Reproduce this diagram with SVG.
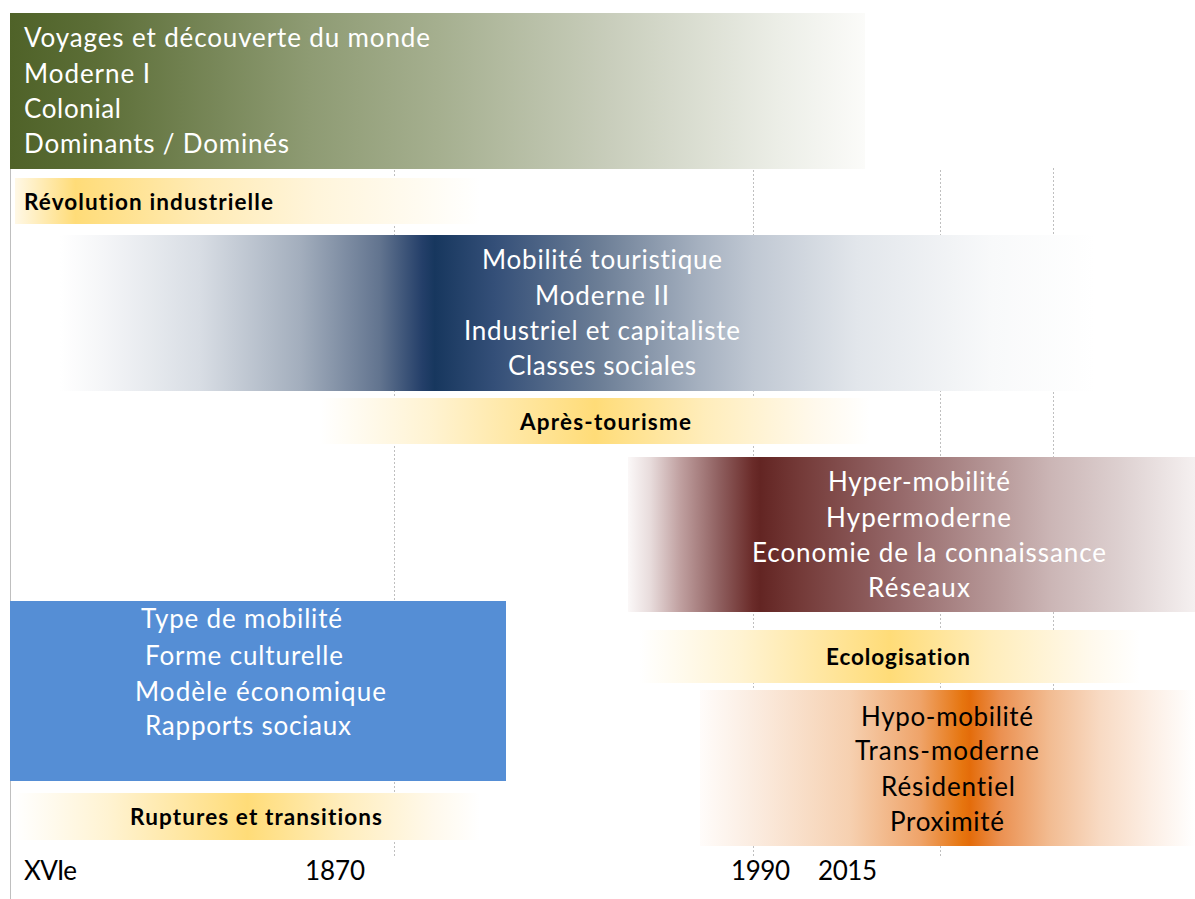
<svg xmlns="http://www.w3.org/2000/svg" width="1195" height="899" viewBox="0 0 1195 899">
<defs>
<style>
text{font-family:Lato,"Liberation Sans","DejaVu Sans",sans-serif;font-size:26px;font-variant-ligatures:none;font-feature-settings:"liga" 0}
.w{fill:#FFFFFF}
.k{fill:#000000}
.b{font-weight:bold;font-size:22.5px;fill:#000000}
.grid{stroke:#BFBFBF;stroke-width:1;stroke-dasharray:2 2;fill:none}
</style>
<linearGradient id="gGreen" x1="0" y1="0" x2="1" y2="0">
<stop offset="0" stop-color="#4F6228"/>
<stop offset="0.1" stop-color="#5C6E37"/>
<stop offset="0.35" stop-color="#8E9B73"/>
<stop offset="0.5" stop-color="#A5AF8F"/>
<stop offset="0.7" stop-color="#C8CDBB"/>
<stop offset="0.9" stop-color="#ECEEE7"/>
<stop offset="1" stop-color="#FBFBF9"/>
</linearGradient>
<linearGradient id="gNavy" x1="0" y1="0" x2="1" y2="0">
<stop offset="0" stop-color="#FFFFFF"/>
<stop offset="0.04" stop-color="#F5F6F8"/>
<stop offset="0.135" stop-color="#D8DDE4"/>
<stop offset="0.232" stop-color="#A3AEBD"/>
<stop offset="0.309" stop-color="#62748F"/>
<stop offset="0.35" stop-color="#243F69"/>
<stop offset="0.362" stop-color="#17375E"/>
<stop offset="0.42" stop-color="#344F78"/>
<stop offset="0.522" stop-color="#6C7E96"/>
<stop offset="0.618" stop-color="#A6B1C0"/>
<stop offset="0.67" stop-color="#C0C8D3"/>
<stop offset="0.77" stop-color="#E2E6EB"/>
<stop offset="0.9" stop-color="#F8F9FA"/>
<stop offset="1" stop-color="#FFFFFF"/>
</linearGradient>
<linearGradient id="gMaroon" x1="0" y1="0" x2="1" y2="0">
<stop offset="0" stop-color="#FBF8F8"/>
<stop offset="0.039" stop-color="#E8DCDC"/>
<stop offset="0.092" stop-color="#C0A0A0"/>
<stop offset="0.162" stop-color="#8E5E5E"/>
<stop offset="0.22" stop-color="#6A2B29"/>
<stop offset="0.233" stop-color="#632523"/>
<stop offset="0.303" stop-color="#743A38"/>
<stop offset="0.48" stop-color="#96696A"/>
<stop offset="0.656" stop-color="#B89A9A"/>
<stop offset="0.744" stop-color="#CBB5B5"/>
<stop offset="0.868" stop-color="#DDD0D0"/>
<stop offset="1" stop-color="#F5F0F0"/>
</linearGradient>
<linearGradient id="gOrange" x1="0" y1="0" x2="1" y2="0">
<stop offset="0" stop-color="#FFFCFA"/>
<stop offset="0.101" stop-color="#FBEDE2"/>
<stop offset="0.303" stop-color="#F6D0B0"/>
<stop offset="0.444" stop-color="#EFA46A"/>
<stop offset="0.53" stop-color="#E6750F"/>
<stop offset="0.545" stop-color="#E46C0A"/>
<stop offset="0.606" stop-color="#EB9050"/>
<stop offset="0.707" stop-color="#F2BC92"/>
<stop offset="0.808" stop-color="#F8DAC3"/>
<stop offset="0.909" stop-color="#FCEEE4"/>
<stop offset="1" stop-color="#FFFFFF"/>
</linearGradient>
<linearGradient id="gGoldL" x1="0" y1="0" x2="1" y2="0">
<stop offset="0" stop-color="#FFF8E6"/>
<stop offset="0.13" stop-color="#FFDC78"/>
<stop offset="0.4" stop-color="#FFEBB5"/>
<stop offset="0.65" stop-color="#FFF5DB"/>
<stop offset="0.9" stop-color="#FFFCF4"/>
<stop offset="1" stop-color="#FFFFFF"/>
</linearGradient>
<linearGradient id="gGoldC" x1="0" y1="0" x2="1" y2="0">
<stop offset="0" stop-color="#FFFFFF"/>
<stop offset="0.2" stop-color="#FFF3D2"/>
<stop offset="0.5" stop-color="#FFDC78"/>
<stop offset="0.7" stop-color="#FFEDBB"/>
<stop offset="0.9" stop-color="#FFF9EC"/>
<stop offset="1" stop-color="#FFFFFF"/>
</linearGradient>
</defs>

<g id="axis-lines">
<line x1="10.5" y1="13" x2="10.5" y2="899" stroke="#BFBFBF" stroke-width="1"/>
<line class="grid" x1="394.5" y1="170" x2="394.5" y2="858"/>
<line class="grid" x1="753.5" y1="170" x2="753.5" y2="858"/>
<line class="grid" x1="940.5" y1="170" x2="940.5" y2="858"/>
<line class="grid" x1="1053.5" y1="168" x2="1053.5" y2="690"/>
</g>

<g id="connectors"></g>

<g id="voyages">
<rect x="10" y="13" width="855" height="156" fill="url(#gGreen)"/>
<text class="w" x="24" y="47" textLength="406">Voyages et découverte du monde</text>
<text class="w" x="24" y="83" textLength="126">Moderne I</text>
<text class="w" x="24" y="118" textLength="97">Colonial</text>
<text class="w" x="24" y="153" textLength="265">Dominants / Dominés</text>
</g>

<g id="revolution">
<rect x="15" y="178" width="465" height="46" fill="url(#gGoldL)"/>
<text class="b" x="24" y="210" textLength="249">Révolution industrielle</text>
</g>

<g id="touristique">
<rect x="60" y="235" width="1035" height="156" fill="url(#gNavy)"/>
<text class="w" x="482" y="269" textLength="240">Mobilité touristique</text>
<text class="w" x="535" y="305" textLength="134">Moderne II</text>
<text class="w" x="464" y="340" textLength="276">Industriel et capitaliste</text>
<text class="w" x="508" y="375" textLength="188">Classes sociales</text>
</g>

<g id="apres-tourisme">
<rect x="320" y="398" width="550" height="46" fill="url(#gGoldC)"/>
<text class="b" x="520" y="430" textLength="171">Après-tourisme</text>
</g>

<g id="hyper">
<rect x="628" y="457" width="567" height="155" fill="url(#gMaroon)"/>
<text class="w" x="828" y="491" textLength="182">Hyper-mobilité</text>
<text class="w" x="826" y="527" textLength="185">Hypermoderne</text>
<text class="w" x="752" y="562" textLength="354">Economie de la connaissance</text>
<text class="w" x="868" y="597" textLength="102">Réseaux</text>
</g>

<g id="ecologisation">
<rect x="640" y="630" width="500" height="53" fill="url(#gGoldC)"/>
<text class="b" x="826" y="665" textLength="144">Ecologisation</text>
</g>

<g id="hypo">
<rect x="700" y="690" width="495" height="156" fill="url(#gOrange)"/>
<text class="k" x="861" y="726" textLength="172">Hypo-mobilité</text>
<text class="k" x="855" y="760" textLength="184">Trans-moderne</text>
<text class="k" x="881" y="796" textLength="134">Résidentiel</text>
<text class="k" x="890" y="831" textLength="114">Proximité</text>
</g>

<g id="legend">
<rect x="10" y="601" width="496" height="180" fill="#558ED5"/>
<text class="w" x="141" y="628" textLength="201">Type de mobilité</text>
<text class="w" x="145" y="665" textLength="198">Forme culturelle</text>
<text class="w" x="135" y="701" textLength="251">Modèle économique</text>
<text class="w" x="145" y="735" textLength="206">Rapports sociaux</text>
</g>

<g id="ruptures">
<rect x="15" y="793" width="465" height="47" fill="url(#gGoldC)"/>
<text class="b" x="130" y="825" textLength="252">Ruptures et transitions</text>
</g>

<g id="timeline">
<text class="k" x="24" y="880" textLength="53">XVIe</text>
<text class="k" x="305" y="880" textLength="60">1870</text>
<text class="k" x="731" y="880" textLength="59">1990</text>
<text class="k" x="818" y="880" textLength="59">2015</text>
</g>
</svg>
